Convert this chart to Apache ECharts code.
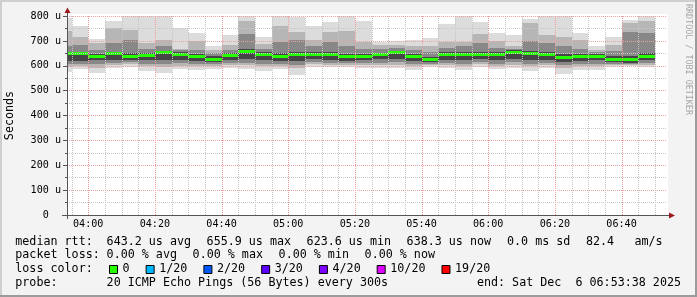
<!DOCTYPE html>
<html><head><meta charset="utf-8">
<script src="https://cdn.jsdelivr.net/npm/echarts@6/dist/echarts.min.js"></script>
<style>html,body{margin:0;padding:0;background:#f3f3f3}#c{width:697px;height:297px}</style>
</head><body><div id="c"></div>
<script>
// ---- data ----
const windowStart = '03:53:38';
const windowEnd = '06:53:38';
const stepMinutes = 5;
const barEnd = ['03:55','04:00','04:05','04:10','04:15','04:20','04:25','04:30','04:35','04:40','04:45','04:50',
  '04:55','05:00','05:05','05:10','05:15','05:20','05:25','05:30','05:35','05:40','05:45','05:50',
  '05:55','06:00','06:05','06:10','06:15','06:20','06:25','06:30','06:35','06:40','06:45','06:50'];
const median = [649,649,639,648,638,642,652,645,636,627,641,656,647,638,644,645,645,636,639,645,652,637,624,645,
  646,645,645,654,648,646,635,638,637,627,624,638];
const pingMax = [790,760,707,780,812,815,810,751,731,681,724,799,714,812,795,760,775,810,780,697,699,702,712,767,
  805,776,732,723,788,810,808,732,680,714,784,812];
const p90 = [740,716,690,753,743,692,703,668,700,665,684,780,689,758,735,704,735,740,697,684,684,680,680,697,
  697,727,700,681,771,724,717,704,665,684,771,778];
const p75 = [680,684,662,690,704,668,678,662,664,652,665,729,668,697,704,680,697,680,668,666,670,664,656,672,
  680,690,672,668,700,690,680,668,656,660,737,731];
const p60 = [656,656,648,656,650,652,660,654,646,638,650,666,656,650,656,654,656,646,648,653,660,646,636,654,
  656,656,654,662,660,656,648,648,646,638,640,652];
const p40 = [620,618,622,625,624,622,624,623,620,615,622,626,624,620,618,626,625,620,622,626,628,620,614,624,
  622,626,622,628,624,624,616,620,622,615,612,622];
const p25 = [608,606,606,612,614,608,606,610,608,606,610,612,608,608,604,614,612,610,610,612,614,608,606,612,
  608,614,608,614,608,610,604,608,608,606,606,610];
const p10 = [596,598,592,602,606,598,594,600,598,598,602,602,598,600,592,606,604,604,602,604,604,598,602,604,
  598,606,600,604,598,602,592,598,598,602,604,604];
const pingMin = [576,586,572,589,596,580,572,586,583,585,589,588,580,585,563,596,594,593,589,592,590,583,595,592,
  581,595,585,592,580,589,568,582,583,595,598,596];
const lossCount = [0,0,0,0,0,0,0,0,0,0,0,0,0,0,0,0,0,0,0,0,0,0,0,0,0,0,0,0,0,0,0,0,0,0,0,0];

const xMajorTicks = ['04:00','04:20','04:40','05:00','05:20','05:40','06:00','06:20','06:40'];
const xMinorTicks = ['03:55','04:05','04:10','04:15','04:25','04:30','04:35','04:45','04:50','04:55','05:05','05:10',
  '05:15','05:25','05:30','05:35','05:45','05:50','05:55','06:05','06:10','06:15','06:25','06:30','06:35','06:45','06:50'];
const yTicks = [0,100,200,300,400,500,600,700,800];
const yTickLabels = ['0','100 u','200 u','300 u','400 u','500 u','600 u','700 u','800 u'];

const lossLegendLabels = ['0','1/20','2/20','3/20','4/20','10/20','19/20'];
const lossLegendColors = ['#26ff00','#00b8ff','#0059ff','#5e00ff','#7e00ff','#dd00ff','#ff0000'];
const lossLegendMin = [0,1,2,3,4,10,19];

const legendRow1 = [['median rtt:',15.3],['643.2 us avg',106.6],['655.9 us max',206.6],['623.6 us min',306.6],
  ['638.3 us now',406.6],['0.0 ms sd',507.0],['82.4',586.0],['am/s',634.5]];
const legendRow2 = [['packet loss:',15.3],['0.00 % avg',106.6],['0.00 % max',192.6],['0.00 % min',278.6],['0.00 % now',364.6]];
const probeText = '20 ICMP Echo Pings (56 Bytes) every 300s';
const endText = 'end: Sat Dec  6 06:53:38 2025';

// ---- helpers ----
function toMin(s){ const p = s.split(':').map(Number); return p[0]*60 + p[1] + (p[2]||0)/60; }
function fmt(v){ const h = Math.floor(v/60), m = Math.round(v - h*60); return String(h).padStart(2,'0')+':'+String(m).padStart(2,'0'); }
function lossColor(n){ let c = lossLegendColors[0]; lossLegendMin.forEach((t,i)=>{ if(n>=t) c = lossLegendColors[i]; }); return c; }

const xMin = toMin(windowStart), xMax = toMin(windowEnd);
const yMin = 0, yMax = 800;
const MONO = '"DejaVu Sans Mono", monospace';

const smokeData = barEnd.map((e,i)=>{
  const end = toMin(e); const start = Math.max(end - stepMinutes, xMin);
  return [start, end, pingMin[i], p10[i], p25[i], p40[i], p60[i], p75[i], p90[i], pingMax[i], median[i], lossCount[i]];
});
const gridData = xMinorTicks.map(t=>[toMin(t),0]).concat(xMajorTicks.map(t=>[toMin(t),1]));

const bandColors = ['#dcdcdc','#b6b6b6','#888888','#464646'];

function renderSmoke(params, api){
  const x0 = api.value(0), x1 = api.value(1);
  const px0 = Math.round(api.coord([x0, 0])[0]);
  const px1 = Math.round(api.coord([x1, 0])[0]);
  const clampY = v => Math.max(yMin, Math.min(yMax, v));
  const yp = v => api.coord([x0, clampY(v)])[1];
  const band = (lo, hi, color) => {
    const yt = Math.round(yp(hi)), yb = Math.round(yp(lo));
    return {type:'rect', shape:{x:px0, y:yt, width:px1-px0, height:yb-yt}, style:{fill:color}};
  };
  const children = [
    band(api.value(2), api.value(9), bandColors[0]),
    band(api.value(3), api.value(8), bandColors[1]),
    band(api.value(4), api.value(7), bandColors[2]),
    band(api.value(5), api.value(6), bandColors[3])
  ];
  const ym = yp(api.value(10));
  children.push({type:'rect', shape:{x:px0, y:Math.round(ym-1.5), width:px1-px0, height:3}, style:{fill:lossColor(api.value(11))}});
  return {type:'group', children};
}

// dotted vertical grid line built from 1px dots
function renderGrid(params, api){
  const x = Math.round(api.coord([api.value(0), 0])[0]);
  const yb = Math.round(api.coord([api.value(0), yMin])[1]);
  const yt = Math.round(api.coord([api.value(0), yMax])[1]) - 1;
  const major = api.value(1) === 1;
  const color = major ? '#f09a9a' : '#c4c4c4';
  const children = [];
  for (let y = yb - 1; y >= yt; y -= 2) {
    children.push({type:'rect', shape:{x:x, y:y, width:1, height:1}, style:{fill:color}});
  }
  return {type:'group', children};
}

const chart = echarts.init(document.getElementById('c'), null, {renderer:'canvas', width:697, height:297});

const graphics = [
  {type:'rect', z:-5, shape:{x:67, y:14, width:601, height:201}, style:{fill:'#ffffff'}},
  {type:'rect', z:20, shape:{x:0, y:0, width:697, height:2}, style:{fill:'#cfcfcf'}},
  {type:'rect', z:20, shape:{x:0, y:0, width:2, height:297}, style:{fill:'#cfcfcf'}},
  {type:'rect', z:20, shape:{x:0, y:295, width:697, height:2}, style:{fill:'#9b9b9b'}},
  {type:'rect', z:20, shape:{x:695, y:0, width:2, height:297}, style:{fill:'#9b9b9b'}},
  {type:'line', z:20, shape:{x1:67.5, y1:215, x2:67.5, y2:219}, style:{stroke:'#555', lineWidth:1}},
  {type:'line', z:20, shape:{x1:62, y1:215.5, x2:67, y2:215.5}, style:{stroke:'#555', lineWidth:1}},
  {type:'line', z:20, shape:{x1:67.5, y1:16, x2:67.5, y2:12}, style:{stroke:'#555', lineWidth:1}},
  {type:'line', z:20, shape:{x1:667, y1:215.5, x2:670, y2:215.5}, style:{stroke:'#555', lineWidth:1}},
  {type:'polygon', z:21, shape:{points:[[67.5,7.5],[64.5,13],[70.5,13]]}, style:{fill:'#9a1c1c'}},
  {type:'polygon', z:21, shape:{points:[[675,215.5],[669,212.5],[669,218.5]]}, style:{fill:'#9a1c1c'}},
  {type:'text', z:20, x:10, y:115.5, rotation:Math.PI/2, style:{text:'Seconds', align:'center', verticalAlign:'middle', font:'11.7px '+MONO, fill:'#000'}},
  {type:'text', z:20, x:688, y:4, rotation:-Math.PI/2, style:{text:'RRDTOOL / TOBI OETIKER', align:'left', verticalAlign:'middle', font:'8.4px '+MONO, fill:'#a6a6a6'}}
];
const rowY = [241.7, 255.2, 269.2, 283.4];
const LF = '11.7px '+MONO;
legendRow1.forEach(([t,x])=>graphics.push({type:'text', z:20, style:{text:t, x:x, y:rowY[0], verticalAlign:'middle', font:LF, fill:'#000'}}));
legendRow2.forEach(([t,x])=>graphics.push({type:'text', z:20, style:{text:t, x:x, y:rowY[1], verticalAlign:'middle', font:LF, fill:'#000'}}));
graphics.push({type:'text', z:20, style:{text:'loss color:', x:15.3, y:rowY[2], verticalAlign:'middle', font:LF, fill:'#000'}});
let bx = 109;
lossLegendLabels.forEach((lab,i)=>{
  graphics.push({type:'rect', z:20, shape:{x:bx+0.5, y:265.5, width:8, height:8}, style:{fill:lossLegendColors[i], stroke:'#000', lineWidth:1}});
  graphics.push({type:'text', z:20, style:{text:lab, x:bx+13.6, y:rowY[2], verticalAlign:'middle', font:LF, fill:'#000'}});
  bx = bx + 13.6 + lab.length*7.04 + 16;
});
graphics.push({type:'text', z:20, style:{text:'probe:', x:15.3, y:rowY[3], verticalAlign:'middle', font:LF, fill:'#000'}});
graphics.push({type:'text', z:20, style:{text:probeText, x:106.6, y:rowY[3], verticalAlign:'middle', font:LF, fill:'#000'}});
graphics.push({type:'text', z:20, style:{text:endText, x:681, y:rowY[3], align:'right', verticalAlign:'middle', font:LF, fill:'#000'}});

chart.setOption({
  animation:false,
  backgroundColor:'#f3f3f3',
  grid:{left:67, top:16, width:600, height:199, containLabel:false},
  xAxis:{type:'value', min:xMin, max:xMax, z:4,
    axisLine:{show:true, lineStyle:{color:'#555', width:1}},
    axisTick:{show:false}, splitLine:{show:false},
    axisLabel:{customValues: xMajorTicks.map(toMin), formatter: v=>fmt(v), margin:4, color:'#000', fontFamily:'DejaVu Sans Mono', fontSize:10.1}
  },
  yAxis:{type:'value', min:yMin, max:yMax, interval:100, z:4,
    axisLine:{show:true, onZero:false, lineStyle:{color:'#555', width:1}},
    axisTick:{show:true, length:4, lineStyle:{color:'#555'}},
    minorTick:{show:true, splitNumber:2, length:2, lineStyle:{color:'#555'}},
    splitLine:{show:true, lineStyle:{color:'#f0a0a0', type:[1,1]}},
    minorSplitLine:{show:true, lineStyle:{color:'#c8c8c8', type:[1,1]}},
    axisLabel:{margin:6, color:'#000', fontFamily:'DejaVu Sans Mono', fontSize:10.1,
      formatter: v=>{ const l = yTickLabels[yTicks.indexOf(v)]; return l.length < 5 ? l + '  ' : l; }}
  },
  series:[
    {type:'custom', name:'smoke', z:2, renderItem:renderSmoke, data:smokeData, encode:{x:[0,1], y:[2,9]}, silent:true},
    {type:'custom', name:'vgrid', z:3, renderItem:renderGrid, data:gridData, encode:{x:0}, silent:true}
  ],
  graphic:{elements:graphics}
});
</script></body></html>
